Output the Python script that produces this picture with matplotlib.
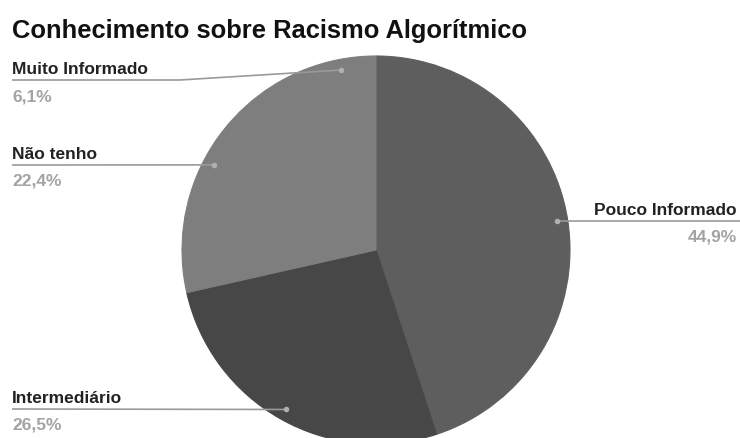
import matplotlib
matplotlib.use("Agg")
import matplotlib.pyplot as plt
import numpy as np

plt.rcParams['font.family'] = ['Liberation Sans', 'DejaVu Sans']

title = "Conhecimento sobre Racismo Algorítmico"
categories = ["Pouco Informado", "Intermediário", "Não tenho", "Muito Informado"]
values = [44.9, 26.5, 22.4, 6.1]
value_labels = ["44,9%", "26,5%", "22,4%", "6,1%"]
colors = ["#5e5e5e", "#474747", "#7e7e7e", "#7e7e7e"]

W, H = 740, 439
fig = plt.figure(figsize=(W / 100, H / 100), dpi=100)
ax = fig.add_axes([0, 0, 1, 1])

# pie geometry in pixel units (y measured from the top of the figure)
cx, cy, R = 376, 251, 194
center = (cx, H - cy)

wedges, _ = ax.pie(values, colors=colors, startangle=90, counterclock=False,
                   radius=R, center=center, frame=True)
for w, c in zip(wedges, colors):
    w.set_edgecolor(c)
    w.set_linewidth(0.8)
ax.set_xlim(0, W)
ax.set_ylim(0, H)
ax.set_aspect("equal")
ax.axis("off")

# anchor dots at the middle angle of each wedge
total = sum(values)
cum = np.cumsum([0] + values[:-1])
anchors = []
for start, v in zip(cum, values):
    mid = (start + v / 2) / total * 2 * np.pi
    anchors.append((cx + 0.945 * R * np.sin(mid), cy - 0.945 * R * np.cos(mid)))

line_color = "#9a9a9a"
name_color = "#222222"
pct_color = "#a3a3a3"
fs = 12.5

# label layout: line height, text x, alignment, optional elbow x of the leader
layout = {
    "Pouco Informado": dict(line_y=222, x=737, ha="right", elbow=None),
    "Intermediário": dict(line_y=410, x=12, ha="left", elbow=None),
    "Não tenho": dict(line_y=166, x=12, ha="left", elbow=None),
    "Muito Informado": dict(line_y=81, x=12, ha="left", elbow=180),
}

for name, pct, (dx, dy) in zip(categories, value_labels, anchors):
    cfg = layout[name]
    ly = cfg["line_y"]
    if cfg["ha"] == "right":
        xs, ys = [dx, W], [dy, ly]
    elif cfg["elbow"] is not None:
        xs, ys = [12, cfg["elbow"], dx], [ly, ly, dy]
    else:
        xs, ys = [12, dx], [ly, dy]
    ax.plot(xs, [H - y for y in ys], color=line_color, lw=1.2,
            solid_capstyle="butt", zorder=3)
    ax.plot([dx], [H - dy], "o", ms=4, color="#b0b0b0", mec="none", zorder=4)
    ax.text(cfg["x"], H - (ly - 7), name, ha=cfg["ha"], va="baseline",
            fontsize=fs, fontweight="bold", color=name_color)
    ax.text(cfg["x"], H - (ly + 20), pct, ha=cfg["ha"], va="baseline",
            fontsize=fs, fontweight="bold", color=pct_color)

ax.text(12, H - 38, title, ha="left", va="baseline", fontsize=18.4,
        fontweight="bold", color="#111111")

fig.savefig("out.png", dpi=100)
